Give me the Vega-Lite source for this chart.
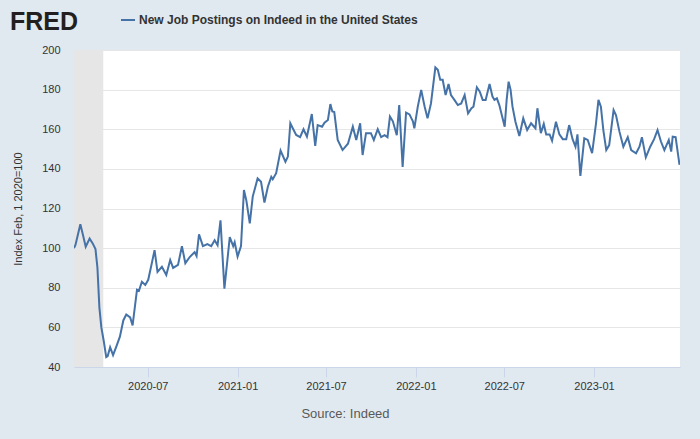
{
  "$schema": "https://vega.github.io/schema/vega-lite/v6.json",
  "width": 606,
  "height": 317,
  "autosize": {"type": "none"},
  "padding": {"left": 74, "top": 50, "right": 20, "bottom": 72},
  "background": "#e1e9f0",
  "title": {
    "text": "FRED",
    "anchor": "start",
    "frame": "group",
    "dx": -64,
    "dy": 64,
    "offset": 21,
    "baseline": "alphabetic",
    "font": "Liberation Sans",
    "fontSize": 25,
    "fontWeight": "bold",
    "color": "#231f20"
  },
  "config": {
    "view": {"stroke": null, "fill": "#ffffff"},
    "font": "Liberation Sans"
  },
  "layer": [
    {
      "data": {"values": [{"start": "2020-02-01", "end": "2020-04-01"}]},
      "mark": {"type": "rect", "color": "#e6e6e6"},
      "encoding": {
        "x": {"field": "start", "type": "temporal", "scale": {"type": "utc"}},
        "x2": {"field": "end"}
      }
    },
    {
      "data": {"values": [
        {"date": "2020-02-01", "value": 100},
        {"date": "2020-02-04", "value": 101.6},
        {"date": "2020-02-14", "value": 112},
        {"date": "2020-02-19", "value": 107},
        {"date": "2020-02-25", "value": 100.7},
        {"date": "2020-03-04", "value": 104.8},
        {"date": "2020-03-10", "value": 102.5},
        {"date": "2020-03-16", "value": 99.5},
        {"date": "2020-03-20", "value": 90},
        {"date": "2020-03-24", "value": 70},
        {"date": "2020-03-28", "value": 60},
        {"date": "2020-04-02", "value": 53},
        {"date": "2020-04-07", "value": 45},
        {"date": "2020-04-10", "value": 45.5},
        {"date": "2020-04-15", "value": 50},
        {"date": "2020-04-21", "value": 46},
        {"date": "2020-04-28", "value": 50.5},
        {"date": "2020-05-05", "value": 55.3},
        {"date": "2020-05-12", "value": 63.5},
        {"date": "2020-05-18", "value": 66.5},
        {"date": "2020-05-26", "value": 65},
        {"date": "2020-05-31", "value": 61},
        {"date": "2020-06-09", "value": 79},
        {"date": "2020-06-13", "value": 78.5},
        {"date": "2020-06-19", "value": 83},
        {"date": "2020-06-26", "value": 81.4},
        {"date": "2020-07-02", "value": 84},
        {"date": "2020-07-09", "value": 92},
        {"date": "2020-07-15", "value": 99},
        {"date": "2020-07-21", "value": 88},
        {"date": "2020-07-30", "value": 90.6},
        {"date": "2020-08-08", "value": 86.4},
        {"date": "2020-08-16", "value": 94},
        {"date": "2020-08-22", "value": 90},
        {"date": "2020-09-01", "value": 91.5},
        {"date": "2020-09-09", "value": 101},
        {"date": "2020-09-16", "value": 92.4},
        {"date": "2020-09-25", "value": 95.5},
        {"date": "2020-10-05", "value": 98},
        {"date": "2020-10-09", "value": 96},
        {"date": "2020-10-14", "value": 107},
        {"date": "2020-10-22", "value": 101},
        {"date": "2020-10-31", "value": 102},
        {"date": "2020-11-08", "value": 101},
        {"date": "2020-11-15", "value": 104},
        {"date": "2020-11-21", "value": 101.5},
        {"date": "2020-11-27", "value": 114},
        {"date": "2020-12-05", "value": 79.5},
        {"date": "2020-12-16", "value": 105.5},
        {"date": "2020-12-23", "value": 101},
        {"date": "2020-12-26", "value": 103},
        {"date": "2021-01-01", "value": 95.7},
        {"date": "2021-01-08", "value": 101},
        {"date": "2021-01-14", "value": 129.3},
        {"date": "2021-01-19", "value": 124},
        {"date": "2021-01-26", "value": 112.5},
        {"date": "2021-02-01", "value": 126},
        {"date": "2021-02-11", "value": 135.2},
        {"date": "2021-02-18", "value": 133.5},
        {"date": "2021-02-25", "value": 123},
        {"date": "2021-03-04", "value": 131},
        {"date": "2021-03-11", "value": 136},
        {"date": "2021-03-14", "value": 134.8},
        {"date": "2021-03-21", "value": 137.8},
        {"date": "2021-03-30", "value": 149.2},
        {"date": "2021-04-09", "value": 143.6},
        {"date": "2021-04-14", "value": 146.2},
        {"date": "2021-04-19", "value": 163},
        {"date": "2021-04-24", "value": 160.5},
        {"date": "2021-05-01", "value": 157.1},
        {"date": "2021-05-09", "value": 156},
        {"date": "2021-05-16", "value": 160},
        {"date": "2021-05-23", "value": 156.3},
        {"date": "2021-06-02", "value": 167.7},
        {"date": "2021-06-09", "value": 151.6},
        {"date": "2021-06-14", "value": 162.1},
        {"date": "2021-06-23", "value": 161.3},
        {"date": "2021-06-28", "value": 163.3},
        {"date": "2021-07-05", "value": 164.7},
        {"date": "2021-07-10", "value": 172.7},
        {"date": "2021-07-14", "value": 169},
        {"date": "2021-07-18", "value": 168.7},
        {"date": "2021-07-25", "value": 154.6},
        {"date": "2021-08-04", "value": 149.5},
        {"date": "2021-08-15", "value": 152.7},
        {"date": "2021-08-25", "value": 161.3},
        {"date": "2021-09-01", "value": 154.6},
        {"date": "2021-09-09", "value": 163},
        {"date": "2021-09-14", "value": 147},
        {"date": "2021-09-21", "value": 158},
        {"date": "2021-10-01", "value": 158},
        {"date": "2021-10-07", "value": 154.6},
        {"date": "2021-10-15", "value": 160},
        {"date": "2021-10-22", "value": 156},
        {"date": "2021-10-29", "value": 157},
        {"date": "2021-11-04", "value": 156},
        {"date": "2021-11-09", "value": 166.4},
        {"date": "2021-11-15", "value": 164},
        {"date": "2021-11-23", "value": 157},
        {"date": "2021-11-28", "value": 172.2},
        {"date": "2021-12-05", "value": 141},
        {"date": "2021-12-12", "value": 168.4},
        {"date": "2021-12-19", "value": 167.5},
        {"date": "2021-12-26", "value": 164},
        {"date": "2021-12-29", "value": 160.5},
        {"date": "2022-01-05", "value": 171.4},
        {"date": "2022-01-12", "value": 179.8},
        {"date": "2022-01-19", "value": 171.5},
        {"date": "2022-01-25", "value": 165.5},
        {"date": "2022-02-01", "value": 173},
        {"date": "2022-02-10", "value": 191.2},
        {"date": "2022-02-15", "value": 190},
        {"date": "2022-02-20", "value": 185},
        {"date": "2022-02-25", "value": 185},
        {"date": "2022-03-03", "value": 177.3},
        {"date": "2022-03-09", "value": 182.8},
        {"date": "2022-03-14", "value": 177.3},
        {"date": "2022-03-21", "value": 174.8},
        {"date": "2022-03-28", "value": 172.2},
        {"date": "2022-04-04", "value": 173},
        {"date": "2022-04-11", "value": 177.3},
        {"date": "2022-04-18", "value": 168},
        {"date": "2022-04-25", "value": 170.6},
        {"date": "2022-04-29", "value": 171.4},
        {"date": "2022-05-06", "value": 181.2},
        {"date": "2022-05-12", "value": 179},
        {"date": "2022-05-18", "value": 174.8},
        {"date": "2022-05-24", "value": 174.8},
        {"date": "2022-06-01", "value": 182.8},
        {"date": "2022-06-07", "value": 176.5},
        {"date": "2022-06-11", "value": 174.8},
        {"date": "2022-06-16", "value": 175.6},
        {"date": "2022-06-21", "value": 172.2},
        {"date": "2022-07-02", "value": 161.3},
        {"date": "2022-07-06", "value": 174.8},
        {"date": "2022-07-10", "value": 184},
        {"date": "2022-07-14", "value": 180},
        {"date": "2022-07-18", "value": 171.4},
        {"date": "2022-07-24", "value": 163.8},
        {"date": "2022-08-01", "value": 156.6},
        {"date": "2022-08-09", "value": 165.5},
        {"date": "2022-08-17", "value": 159.6},
        {"date": "2022-08-25", "value": 163},
        {"date": "2022-09-03", "value": 160.5},
        {"date": "2022-09-07", "value": 170.6},
        {"date": "2022-09-14", "value": 158},
        {"date": "2022-09-20", "value": 162.7},
        {"date": "2022-09-25", "value": 157.4},
        {"date": "2022-10-02", "value": 157.4},
        {"date": "2022-10-07", "value": 154.2},
        {"date": "2022-10-15", "value": 163.8},
        {"date": "2022-10-22", "value": 157.4},
        {"date": "2022-10-29", "value": 155},
        {"date": "2022-11-05", "value": 155},
        {"date": "2022-11-11", "value": 162.1},
        {"date": "2022-11-18", "value": 155},
        {"date": "2022-11-24", "value": 151.2},
        {"date": "2022-11-28", "value": 157.4},
        {"date": "2022-12-04", "value": 136.4},
        {"date": "2022-12-12", "value": 155.4},
        {"date": "2022-12-19", "value": 154.6},
        {"date": "2022-12-28", "value": 147.9},
        {"date": "2023-01-05", "value": 163},
        {"date": "2023-01-10", "value": 174.8},
        {"date": "2023-01-15", "value": 171.4},
        {"date": "2023-01-20", "value": 159.6},
        {"date": "2023-01-26", "value": 149.5},
        {"date": "2023-02-01", "value": 152},
        {"date": "2023-02-10", "value": 169.7},
        {"date": "2023-02-15", "value": 167},
        {"date": "2023-02-22", "value": 158.8},
        {"date": "2023-03-02", "value": 151.2},
        {"date": "2023-03-11", "value": 156},
        {"date": "2023-03-18", "value": 149.5},
        {"date": "2023-03-28", "value": 147.9},
        {"date": "2023-04-04", "value": 151.2},
        {"date": "2023-04-09", "value": 156},
        {"date": "2023-04-17", "value": 145.8},
        {"date": "2023-04-26", "value": 151.2},
        {"date": "2023-05-04", "value": 155},
        {"date": "2023-05-11", "value": 159.6},
        {"date": "2023-05-18", "value": 153.8},
        {"date": "2023-05-25", "value": 149.5},
        {"date": "2023-06-03", "value": 154.6},
        {"date": "2023-06-08", "value": 148.7},
        {"date": "2023-06-11", "value": 156.3},
        {"date": "2023-06-17", "value": 156},
        {"date": "2023-06-25", "value": 142}
      ]},
      "mark": {"type": "line", "strokeWidth": 2, "clip": true},
      "encoding": {
        "x": {
          "field": "date",
          "type": "temporal",
          "scale": {
            "type": "utc",
            "domain": [
              {"year": 2020, "month": 2, "date": 1, "utc": true},
              {"year": 2023, "month": 6, "date": 26, "utc": true}
            ]
          },
          "axis": {
            "values": [
              {"year": 2020, "month": 7, "date": 1, "utc": true},
              {"year": 2021, "month": 1, "date": 1, "utc": true},
              {"year": 2021, "month": 7, "date": 1, "utc": true},
              {"year": 2022, "month": 1, "date": 1, "utc": true},
              {"year": 2022, "month": 7, "date": 1, "utc": true},
              {"year": 2023, "month": 1, "date": 1, "utc": true}
            ],
            "labelExpr": "utcFormat(datum.value, '%Y-%m')",
            "grid": false,
            "domain": true,
            "domainColor": "#ccd6eb",
            "domainWidth": 1,
            "ticks": true,
            "tickColor": "#ccd6eb",
            "tickSize": 10,
            "labelPadding": 3,
            "labelFont": "Liberation Sans",
            "labelFontSize": 11,
            "labelColor": "#333333",
            "labelFlush": false,
            "title": "Source: Indeed",
            "titleFont": "Liberation Sans",
            "titleFontSize": 13,
            "titleFontWeight": "normal",
            "titleColor": "#595959",
            "titleX": 271,
            "titleY": 46,
            "titleBaseline": "middle",
            "titleAnchor": "middle"
          }
        },
        "y": {
          "field": "value",
          "type": "quantitative",
          "scale": {"domain": [40, 200], "nice": false, "zero": false},
          "axis": {
            "values": [40, 60, 80, 100, 120, 140, 160, 180, 200],
            "grid": true,
            "gridColor": "#e6e6e6",
            "gridWidth": 1,
            "domain": false,
            "ticks": false,
            "tickSize": 0,
            "labelPadding": 14,
            "labelFont": "Liberation Sans",
            "labelFontSize": 11,
            "labelColor": "#333333",
            "title": "Index Feb, 1 2020=100",
            "titleFont": "Liberation Sans",
            "titleFontSize": 11,
            "titleFontWeight": "normal",
            "titleColor": "#333333",
            "titleX": -56,
            "titleY": 158.5,
            "titleBaseline": "middle",
            "titleAngle": -90,
            "titleAnchor": "middle"
          }
        },
        "color": {
          "datum": "New Job Postings on Indeed in the United States",
          "scale": {"range": ["#4572a7"]},
          "legend": {
            "title": null,
            "orient": "none",
            "legendX": 46,
            "legendY": -38,
            "symbolType": "stroke",
            "symbolSize": 196,
            "symbolStrokeWidth": 2,
            "labelFont": "Liberation Sans",
            "labelFontSize": 12,
            "labelFontWeight": "bold",
            "labelColor": "#333333",
            "labelOffset": 3,
            "labelLimit": 500
          }
        }
      }
    }
  ]
}
